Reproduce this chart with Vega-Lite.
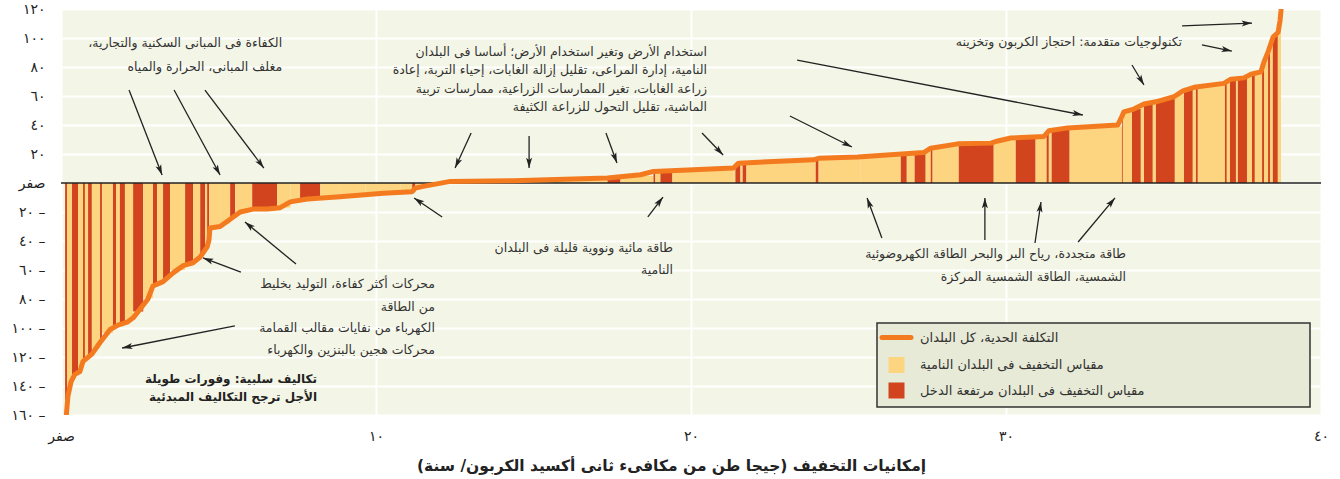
{
  "$schema": "https://vega.github.io/schema/vega-lite/v6.json",
  "width": 1260,
  "height": 406,
  "autosize": {"type": "none"},
  "padding": {"left": 61, "top": 9, "right": 19, "bottom": 64},
  "background": "white",
  "config": {"font": "DejaVu Sans", "view": {"fill": "#F3F6E6", "stroke": null}},
  "datasets": {
    "bars": [
      {"x":0.13,"xend":0.19,"y":-160,"region":"high"},
      {"x":0.19,"xend":0.35,"y":-142,"region":"dev"},
      {"x":0.35,"xend":0.54,"y":-132,"region":"high"},
      {"x":0.54,"xend":0.70,"y":-129,"region":"dev"},
      {"x":0.70,"xend":0.76,"y":-122.5,"region":"high"},
      {"x":0.76,"xend":0.86,"y":-121,"region":"dev"},
      {"x":0.86,"xend":0.98,"y":-119,"region":"high"},
      {"x":0.98,"xend":1.24,"y":-114,"region":"dev"},
      {"x":1.24,"xend":1.30,"y":-109,"region":"high"},
      {"x":1.30,"xend":1.65,"y":-103.5,"region":"dev"},
      {"x":1.65,"xend":1.75,"y":-99.3,"region":"high"},
      {"x":1.75,"xend":1.87,"y":-98,"region":"dev"},
      {"x":1.87,"xend":2.03,"y":-97,"region":"high"},
      {"x":2.03,"xend":2.29,"y":-95,"region":"dev"},
      {"x":2.29,"xend":2.61,"y":-88.6,"region":"high"},
      {"x":2.61,"xend":2.92,"y":-79.5,"region":"dev"},
      {"x":2.92,"xend":3.05,"y":-70.4,"region":"high"},
      {"x":3.05,"xend":3.24,"y":-69,"region":"dev"},
      {"x":3.24,"xend":3.46,"y":-66,"region":"high"},
      {"x":3.46,"xend":3.94,"y":-60,"region":"dev"},
      {"x":3.94,"xend":4.19,"y":-56,"region":"high"},
      {"x":4.19,"xend":4.42,"y":-53,"region":"dev"},
      {"x":4.42,"xend":4.58,"y":-48.5,"region":"high"},
      {"x":4.58,"xend":4.64,"y":-45,"region":"dev"},
      {"x":4.64,"xend":4.70,"y":-41.5,"region":"high"},
      {"x":4.70,"xend":5.05,"y":-31,"region":"dev"},
      {"x":5.05,"xend":5.37,"y":-28,"region":"dev"},
      {"x":5.37,"xend":5.53,"y":-24,"region":"high"},
      {"x":5.53,"xend":6.07,"y":-19.5,"region":"dev"},
      {"x":6.07,"xend":6.86,"y":-18,"region":"high"},
      {"x":6.86,"xend":7.28,"y":-17,"region":"dev"},
      {"x":7.28,"xend":7.59,"y":-12.5,"region":"dev"},
      {"x":7.59,"xend":8.23,"y":-11,"region":"high"},
      {"x":8.23,"xend":8.86,"y":-10,"region":"dev"},
      {"x":8.86,"xend":9.66,"y":-9,"region":"dev"},
      {"x":9.66,"xend":10.77,"y":-7,"region":"dev"},
      {"x":10.77,"xend":11.15,"y":-6,"region":"dev"},
      {"x":11.15,"xend":11.25,"y":-5,"region":"high"},
      {"x":11.25,"xend":11.6,"y":-3,"region":"dev"},
      {"x":11.6,"xend":12.1,"y":-1.5,"region":"dev"},
      {"x":12.1,"xend":14.58,"y":1.2,"region":"dev"},
      {"x":14.58,"xend":17.35,"y":2.5,"region":"dev"},
      {"x":17.35,"xend":17.76,"y":3.5,"region":"high"},
      {"x":17.76,"xend":18.81,"y":5,"region":"dev"},
      {"x":18.81,"xend":18.87,"y":7,"region":"high"},
      {"x":18.87,"xend":19.03,"y":8,"region":"dev"},
      {"x":19.03,"xend":19.41,"y":8.3,"region":"high"},
      {"x":19.41,"xend":21.35,"y":9.5,"region":"dev"},
      {"x":21.35,"xend":21.41,"y":12,"region":"dev"},
      {"x":21.41,"xend":21.57,"y":13,"region":"high"},
      {"x":21.57,"xend":21.64,"y":14,"region":"dev"},
      {"x":21.64,"xend":21.76,"y":14,"region":"high"},
      {"x":21.76,"xend":23.96,"y":15,"region":"dev"},
      {"x":23.96,"xend":24.05,"y":16,"region":"high"},
      {"x":24.05,"xend":25.39,"y":17.5,"region":"dev"},
      {"x":25.39,"xend":26.66,"y":19.5,"region":"dev"},
      {"x":26.66,"xend":26.85,"y":20.5,"region":"high"},
      {"x":26.85,"xend":27.10,"y":20.8,"region":"dev"},
      {"x":27.10,"xend":27.45,"y":21,"region":"high"},
      {"x":27.45,"xend":27.61,"y":23,"region":"dev"},
      {"x":27.61,"xend":27.67,"y":24,"region":"high"},
      {"x":27.67,"xend":28.50,"y":25.5,"region":"dev"},
      {"x":28.50,"xend":29.61,"y":27.2,"region":"high"},
      {"x":29.61,"xend":30.31,"y":29.5,"region":"dev"},
      {"x":30.31,"xend":30.94,"y":31,"region":"high"},
      {"x":30.94,"xend":31.29,"y":31.8,"region":"dev"},
      {"x":31.29,"xend":31.36,"y":34,"region":"high"},
      {"x":31.36,"xend":31.45,"y":36,"region":"dev"},
      {"x":31.45,"xend":32.02,"y":37,"region":"high"},
      {"x":32.02,"xend":33.68,"y":39,"region":"dev"},
      {"x":33.68,"xend":33.71,"y":46,"region":"high"},
      {"x":33.71,"xend":34.00,"y":49,"region":"dev"},
      {"x":34.00,"xend":34.28,"y":51,"region":"high"},
      {"x":34.28,"xend":34.38,"y":53,"region":"dev"},
      {"x":34.38,"xend":34.66,"y":55,"region":"high"},
      {"x":34.66,"xend":34.76,"y":56,"region":"dev"},
      {"x":34.76,"xend":35.36,"y":58,"region":"high"},
      {"x":35.36,"xend":35.65,"y":61,"region":"dev"},
      {"x":35.65,"xend":35.93,"y":64.5,"region":"high"},
      {"x":35.93,"xend":36.03,"y":66,"region":"dev"},
      {"x":36.03,"xend":36.09,"y":66,"region":"high"},
      {"x":36.09,"xend":36.95,"y":67.5,"region":"dev"},
      {"x":36.95,"xend":37.01,"y":69,"region":"high"},
      {"x":37.01,"xend":37.11,"y":70.5,"region":"dev"},
      {"x":37.11,"xend":37.30,"y":71.5,"region":"high"},
      {"x":37.30,"xend":37.36,"y":72,"region":"dev"},
      {"x":37.36,"xend":37.65,"y":72.5,"region":"high"},
      {"x":37.65,"xend":37.81,"y":74,"region":"dev"},
      {"x":37.81,"xend":37.90,"y":75.5,"region":"high"},
      {"x":37.90,"xend":38.13,"y":76,"region":"dev"},
      {"x":38.13,"xend":38.19,"y":80,"region":"high"},
      {"x":38.19,"xend":38.32,"y":87,"region":"dev"},
      {"x":38.32,"xend":38.38,"y":92,"region":"high"},
      {"x":38.38,"xend":38.47,"y":98,"region":"dev"},
      {"x":38.47,"xend":38.63,"y":102,"region":"high"},
      {"x":38.63,"xend":38.73,"y":106,"region":"dev"}
    ],
    "zero": [{"x": 0, "xend": 40, "y": 0}],
    "curve": [
      {"x":0.17,"y":-160},{"x":0.22,"y":-147},{"x":0.32,"y":-137},{"x":0.44,"y":-132},{"x":0.60,"y":-130},
      {"x":0.70,"y":-123},{"x":0.98,"y":-118},{"x":1.24,"y":-110},{"x":1.56,"y":-101},{"x":1.81,"y":-98},
      {"x":2.10,"y":-96},{"x":2.29,"y":-93},{"x":2.51,"y":-87},{"x":2.76,"y":-80},{"x":2.92,"y":-71},
      {"x":3.24,"y":-68},{"x":3.56,"y":-62},{"x":3.88,"y":-57},{"x":4.19,"y":-55},{"x":4.42,"y":-51},
      {"x":4.64,"y":-44},{"x":4.70,"y":-39},{"x":4.73,"y":-31},{"x":5.05,"y":-30},{"x":5.37,"y":-25},
      {"x":5.69,"y":-20},{"x":6.10,"y":-18},{"x":6.54,"y":-18},{"x":6.96,"y":-17},{"x":7.28,"y":-13},
      {"x":7.82,"y":-11},{"x":8.86,"y":-9.5},{"x":10.23,"y":-7},{"x":11.15,"y":-6},{"x":11.25,"y":-3.5},
      {"x":11.50,"y":-2.3},{"x":12.36,"y":1.1},{"x":14.36,"y":1.5},{"x":17.35,"y":3.4},{"x":18.40,"y":5.7},
      {"x":18.81,"y":8},{"x":21.35,"y":10.3},{"x":21.51,"y":13.7},{"x":23.89,"y":16},{"x":24.05,"y":17},
      {"x":25.29,"y":18},{"x":27.39,"y":21},{"x":27.61,"y":24},{"x":28.47,"y":27},{"x":29.52,"y":27.5},
      {"x":29.74,"y":29},{"x":30.15,"y":31},{"x":31.20,"y":32},{"x":31.36,"y":36},{"x":31.96,"y":38},
      {"x":33.55,"y":40},{"x":33.68,"y":46},{"x":33.74,"y":49},{"x":34.06,"y":51},{"x":34.38,"y":54.5},
      {"x":34.76,"y":56},{"x":35.33,"y":59.5},{"x":35.62,"y":63.6},{"x":35.97,"y":66},{"x":36.92,"y":68.7},
      {"x":37.14,"y":71.6},{"x":37.55,"y":72.5},{"x":37.78,"y":75},{"x":38.09,"y":76.6},{"x":38.19,"y":83.5},
      {"x":38.32,"y":90.4},{"x":38.48,"y":100.7},{"x":38.64,"y":104},{"x":38.70,"y":112},{"x":38.73,"y":119},
      {"x":38.75,"y":126}
    ],
    "notes": [
      {"x":7.02,"y":96.6,"kind":"note","text":"\u200fالكفاءة فى المبانى السكنية والتجارية،\u200f"},
      {"x":7.02,"y":80.0,"kind":"note","text":"\u200fمغلف المبانى، الحرارة والمياه\u200f"},
      {"x":20.51,"y":90.3,"kind":"note","text":"\u200fاستخدام الأرض وتغير استخدام الأرض؛ أساسا فى البلدان\u200f"},
      {"x":20.51,"y":77.9,"kind":"note","text":"\u200fالنامية، إدارة المراعى، تقليل إزالة الغابات، إحياء التربة، إعادة\u200f"},
      {"x":20.51,"y":64.8,"kind":"note","text":"\u200fزراعة الغابات، تغير الممارسات الزراعية، ممارسات تربية\u200f"},
      {"x":20.51,"y":52.4,"kind":"note","text":"\u200fالماشية، تقليل التحول للزراعة الكثيفة\u200f"},
      {"x":35.59,"y":97.2,"kind":"note","text":"\u200fتكنولوجيات متقدمة: احتجاز الكربون وتخزينه\u200f"},
      {"x":19.43,"y":-44.8,"kind":"note","text":"\u200fطاقة مائية ونووية قليلة فى البلدان\u200f"},
      {"x":19.43,"y":-60.0,"kind":"note","text":"\u200fالنامية\u200f"},
      {"x":11.87,"y":-69.7,"kind":"note","text":"\u200fمحركات أكثر كفاءة، التوليد بخليط\u200f"},
      {"x":11.87,"y":-85.5,"kind":"note","text":"\u200fمن الطاقة\u200f"},
      {"x":11.87,"y":-100,"kind":"note","text":"\u200fالكهرباء من نفايات مقالب القمامة\u200f"},
      {"x":11.87,"y":-115.2,"kind":"note","text":"\u200fمحركات هجين بالبنزين والكهرباء\u200f"},
      {"x":33.81,"y":-49.0,"kind":"note","text":"\u200fطاقة متجددة، رياح البر والبحر الطاقة الكهروضوئية\u200f"},
      {"x":33.81,"y":-64.8,"kind":"note","text":"\u200fالشمسية، الطاقة الشمسية المركزة\u200f"},
      {"x":8.13,"y":-135.2,"kind":"bold","text":"\u200fتكاليف سلبية: وفورات طويلة\u200f"},
      {"x":8.13,"y":-147.6,"kind":"bold","text":"\u200fالأجل ترجح التكاليف المبدئية\u200f"}
    ],
    "arrows": [
      {"x2":2.16,"y2":64.1,"x":3.21,"y":5.5},
      {"x2":3.59,"y2":64.1,"x":5.05,"y":5.5},
      {"x2":4.57,"y2":64.1,"x":6.44,"y":10.3},
      {"x2":13.02,"y2":34.5,"x":12.51,"y":10.3},
      {"x2":14.86,"y2":32.4,"x":14.86,"y":10.3},
      {"x2":17.30,"y2":34.5,"x":17.65,"y":13.8},
      {"x2":20.35,"y2":34.5,"x":21.02,"y":19.3},
      {"x2":23.14,"y2":46.2,"x":25.11,"y":24.8},
      {"x2":23.37,"y2":84.8,"x":32.44,"y":46.9},
      {"x2":35.59,"y2":108.3,"x":37.81,"y":110.3},
      {"x2":36.22,"y2":95.2,"x":37.17,"y":91.0},
      {"x2":34.0,"y2":81.4,"x":34.38,"y":67.6},
      {"x2":18.63,"y2":-23.4,"x":19.11,"y":-9.7},
      {"x2":12.10,"y2":-23.4,"x":11.21,"y":-10.3},
      {"x2":7.46,"y2":-55.9,"x":5.84,"y":-26.9},
      {"x2":5.71,"y2":-61.4,"x":4.51,"y":-51.7},
      {"x2":5.52,"y2":-98.6,"x":1.94,"y":-113.8},
      {"x2":26.06,"y2":-37.9,"x":25.59,"y":-10.3},
      {"x2":29.33,"y2":-39.3,"x":29.33,"y":-10.3},
      {"x2":30.92,"y2":-41.4,"x":31.11,"y":-13.1},
      {"x2":32.29,"y2":-40.7,"x":33.46,"y":-10.3}
    ]
  },
  "encoding": {
    "x": {
      "field": "x", "type": "quantitative",
      "scale": {"domain": [0, 40], "nice": false, "zero": false},
      "axis": {
        "values": [0, 10, 20, 30, 40],
        "labelExpr": "datum.value == 0 ? 'صفر' : datum.value == 10 ? '١٠' : datum.value == 20 ? '٢٠' : datum.value == 30 ? '٣٠' : '٤٠'",
        "grid": true, "gridColor": "#FFFFFF", "gridWidth": 2,
        "domain": false, "ticks": false, "labelPadding": 14, "labelFlush": false,
        "labelFont": "DejaVu Sans", "labelFontSize": 14, "labelColor": "#222222",
        "title": "\u200fإمكانيات التخفيف (جيجا طن من مكافىء ثانى أكسيد الكربون/ سنة)\u200f",
        "titleFont": "DejaVu Sans", "titleFontSize": 15.5, "titleFontWeight": "bold", "titleColor": "#222222",
        "titleX": 610, "titleY": 50, "titleAlign": "center", "titleBaseline": "middle"
      }
    },
    "y": {
      "field": "y", "type": "quantitative",
      "scale": {"domain": [-160, 120], "nice": false, "zero": false},
      "axis": {
        "values": [-160, -140, -120, -100, -80, -60, -40, -20, 0, 20, 40, 60, 80, 100, 120],
        "labelExpr": "datum.value == 120 ? '١٢٠' : datum.value == 100 ? '١٠٠' : datum.value == 80 ? '٨٠' : datum.value == 60 ? '٦٠' : datum.value == 40 ? '٤٠' : datum.value == 20 ? '٢٠' : datum.value == 0 ? 'صفر' : datum.value == -20 ? '٢٠ –' : datum.value == -40 ? '٤٠ –' : datum.value == -60 ? '٦٠ –' : datum.value == -80 ? '٨٠ –' : datum.value == -100 ? '١٠٠ –' : datum.value == -120 ? '١٢٠ –' : datum.value == -140 ? '١٤٠ –' : '١٦٠ –'",
        "grid": true, "gridColor": "#FFFFFF", "gridWidth": 2,
        "domain": false, "ticks": false, "labelPadding": 16,
        "labelFont": "DejaVu Sans", "labelFontSize": 14, "labelColor": "#222222",
        "title": ""
      }
    }
  },
  "layer": [
    {
      "data": {"name": "bars"},
      "mark": {"type": "rect"},
      "encoding": {
        "x2": {"field": "xend"},
        "y2": {"datum": 0},
        "color": {
          "field": "region", "type": "nominal",
          "scale": {"domain": ["curve", "dev", "high"], "range": ["#F47A20", "#FDD581", "#D1441D"]},
          "legend": {
            "orient": "none", "legendX": 816, "legendY": 314, "title": null,
            "padding": 8, "rowPadding": 8.5, "symbolSize": 256, "symbolType": "square",
            "symbolOffset": 5, "labelOffset": 17, "labelLimit": 600,
            "labelFont": "DejaVu Sans", "labelFontSize": 13, "labelColor": "#333333",
            "fillColor": "#E7EAD6", "strokeColor": "#333333",
            "labelExpr": "datum.value === 'curve' ? 'التكلفة الحدية، كل البلدان' : datum.value === 'dev' ? 'مقياس التخفيف فى البلدان النامية' : pad('مقياس التخفيف فى البلدان مرتفعة الدخل', 75, '\u00a0') + '\u200e'",
            "encode": {
              "legend": {"update": {"strokeWidth": {"value": 1.5}}},
              "symbols": {
                "update": {
                  "shape": {"signal": "datum.value === 'curve' ? 'stroke' : 'square'"},
                  "size": {"signal": "datum.value === 'curve' ? 841 : 256"},
                  "fill": {"signal": "datum.value === 'curve' ? 'transparent' : (datum.value === 'dev' ? '#FDD581' : '#D1441D')"},
                  "stroke": {"signal": "datum.value === 'curve' ? '#F47A20' : 'transparent'"},
                  "strokeWidth": {"signal": "datum.value === 'curve' ? 5 : 0"},
                  "strokeCap": {"value": "round"},
                  "opacity": {"value": 1}
                }
              }
            }
          }
        }
      }
    },
    {
      "data": {"name": "zero"},
      "mark": {"type": "rule", "color": "#222222", "strokeWidth": 1.3},
      "encoding": {
        "x2": {"field": "xend"}
      }
    },
    {
      "data": {"name": "curve"},
      "mark": {"type": "line", "strokeWidth": 5, "clip": true, "strokeCap": "round", "strokeJoin": "round"},
      "encoding": {
        "color": {"datum": "curve"}
      }
    },
    {
      "data": {"name": "arrows"},
      "mark": {"type": "rule", "color": "#222222", "strokeWidth": 1.3},
      "encoding": {
        "x2": {"field": "x2"},
        "y2": {"field": "y2"}
      }
    },
    {
      "data": {"name": "arrows"},
      "transform": [{"calculate": "atan2((datum.x - datum.x2) * 31.5, (datum.y - datum.y2) * 1.45) * 180 / PI", "as": "angle"}],
      "mark": {"type": "point", "filled": true, "color": "#222222", "opacity": 1, "size": 120, "shape": "M0,0L0.55,1.9L0,1.45L-0.55,1.9Z"},
      "encoding": {
        "angle": {"field": "angle", "type": "quantitative", "scale": null}
      }
    },
    {
      "data": {"name": "notes"},
      "transform": [{"filter": "datum.kind === 'note'"}],
      "mark": {"type": "text", "align": "right", "baseline": "middle", "font": "DejaVu Sans", "fontSize": 12.5, "color": "#333333"},
      "encoding": {
        "text": {"field": "text"}
      }
    },
    {
      "data": {"name": "notes"},
      "transform": [{"filter": "datum.kind === 'bold'"}],
      "mark": {"type": "text", "align": "right", "baseline": "middle", "font": "DejaVu Sans", "fontSize": 12, "fontWeight": "bold", "color": "#222222"},
      "encoding": {
        "text": {"field": "text"}
      }
    }
  ]
}
